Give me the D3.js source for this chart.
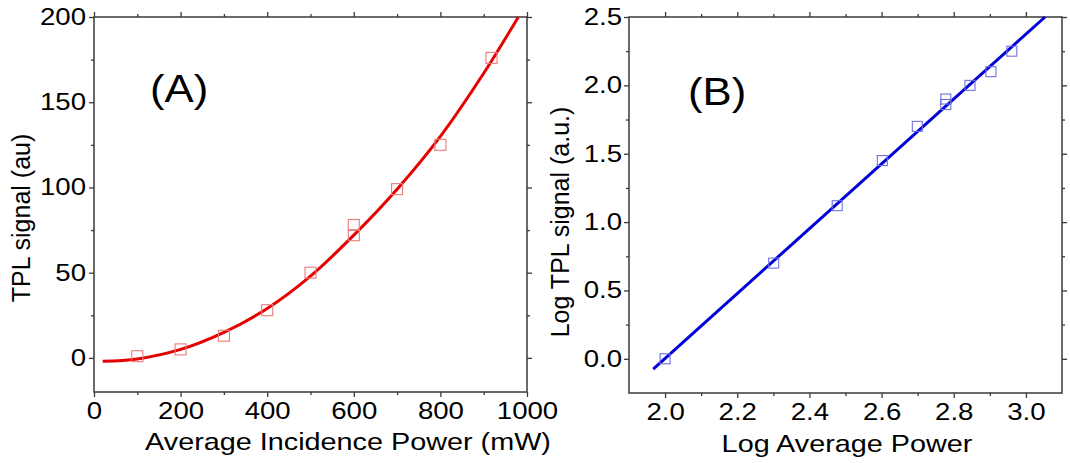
<!DOCTYPE html>
<meta charset="utf-8">
<style>
body { margin: 0; background: #fff; }
svg text { font-family: "Liberation Sans", Arial, sans-serif; fill: #000; }
.frame { fill: none; stroke: #3a3a3a; stroke-width: 1.5; }
.axis line { stroke: #3a3a3a; stroke-width: 1.3; }
.axis path { display: none; }
</style>
<svg width="1070" height="463" id="chart"></svg>
<script src="https://d3js.org/d3.v7.min.js"></script>
<script>
// panel A: raw signal vs power
var powerA  = [100, 200, 300, 400, 500, 600, 600, 700, 800, 918];
var signalA = [1, 5, 13, 28, 50, 72, 78, 99, 125, 176];
// fitted curve
var fitPowerA  = [20, 100, 200, 300, 400, 500, 600, 700, 800, 900, 980];
var fitSignalA = [-2, -0.6, 5, 15, 29, 48, 72, 99, 130, 167, 200];

// panel B: log-log
var logPowerB  = [2.0, 2.301, 2.477, 2.602, 2.699, 2.778, 2.778, 2.845, 2.903, 2.961];
var logSignalB = [0.0, 0.70, 1.12, 1.45, 1.70, 1.86, 1.90, 2.00, 2.10, 2.25];
var fitLogPowerB  = [1.967, 3.053];
var fitLogSignalB = [-0.075, 2.5];

var xTicksA = [0, 200, 400, 600, 800, 1000], xMinorA = [100, 300, 500, 700, 900];
var yTicksA = [0, 50, 100, 150, 200], yMinorA = [25, 75, 125, 175];
var xTicksB = [2.0, 2.2, 2.4, 2.6, 2.8, 3.0], xMinorB = [2.1, 2.3, 2.5, 2.7, 2.9];
var yTicksB = [0, 0.5, 1.0, 1.5, 2.0, 2.5], yMinorB = [0.25, 0.75, 1.25, 1.75, 2.25];

var svg = d3.select("#chart");
var stretch = 1.2;   // glyphs in the picture are a bit wide

function panel(o) {
  var x = d3.scaleLinear().domain(o.xDomain).range(o.xRange);
  var y = d3.scaleLinear().domain(o.yDomain).range(o.yRange);
  var g = svg.append("g");
  var x0 = o.xRange[0], x1 = o.xRange[1], y0 = o.yRange[0], y1 = o.yRange[1];

  // bottom / top
  g.append("g").attr("class", "axis").attr("transform", `translate(0,${y0})`)
    .call(d3.axisBottom(x).tickValues(o.xTicks).tickSize(5).tickPadding(6).tickFormat(o.xFmt))
    .selectAll("text").attr("font-size", 23).attr("transform", `scale(${stretch},1)`);
  g.append("g").attr("class", "axis").attr("transform", `translate(0,${y0})`)
    .call(d3.axisBottom(x).tickValues(o.xMinor).tickSize(3).tickFormat(""));
  g.append("g").attr("class", "axis").attr("transform", `translate(0,${y1})`)
    .call(d3.axisTop(x).tickValues(o.xTicks).tickSize(5).tickFormat(""));
  g.append("g").attr("class", "axis").attr("transform", `translate(0,${y1})`)
    .call(d3.axisTop(x).tickValues(o.xMinor).tickSize(3).tickFormat(""));

  // left / right
  g.append("g").attr("class", "axis").attr("transform", `translate(${x0},0)`)
    .call(d3.axisLeft(y).tickValues(o.yTicks).tickSize(5).tickFormat(o.yFmt))
    .selectAll("text").attr("font-size", 23).attr("x", -o.yPad / stretch)
      .attr("transform", `scale(${stretch},1)`);
  g.append("g").attr("class", "axis").attr("transform", `translate(${x0},0)`)
    .call(d3.axisLeft(y).tickValues(o.yMinor).tickSize(3).tickFormat(""));
  g.append("g").attr("class", "axis").attr("transform", `translate(${x1},0)`)
    .call(d3.axisRight(y).tickValues(o.yTicks).tickSize(5).tickFormat(""));
  g.append("g").attr("class", "axis").attr("transform", `translate(${x1},0)`)
    .call(d3.axisRight(y).tickValues(o.yMinor).tickSize(3).tickFormat(""));

  g.append("rect").attr("class", "frame")
    .attr("x", x0).attr("y", y1).attr("width", x1 - x0).attr("height", y0 - y1);

  // fit line
  var fit = d3.range(o.fitX.length).map(i => [o.fitX[i], o.fitY[i]]);
  g.append("path").datum(fit)
    .attr("fill", "none").attr("stroke", o.lineColor).attr("stroke-width", 3)
    .attr("d", d3.line().x(d => x(d[0])).y(d => y(d[1])).curve(d3.curveCatmullRom));

  // open squares
  var s = o.sq;
  g.selectAll(null).data(o.px).enter().append("rect")
    .attr("x", (d, i) => x(d) - s / 2)
    .attr("y", (d, i) => y(o.py[i]) - s / 2)
    .attr("width", s).attr("height", s)
    .attr("fill", "none").attr("stroke", o.markColor).attr("stroke-width", 1.1);

  // titles
  g.append("text").attr("font-size", 24).attr("text-anchor", "middle")
    .attr("transform", `translate(${o.xTitlePos[0]},${o.xTitlePos[1]}) scale(${stretch},1)`)
    .text(o.xTitle);
  g.append("text").attr("font-size", 25).attr("text-anchor", "middle")
    .attr("transform", `translate(${o.yTitlePos[0]},${o.yTitlePos[1]}) rotate(-90)`)
    .text(o.yTitle);
  g.append("text").attr("font-size", 38)
    .attr("transform", `translate(${o.tagPos[0]},${o.tagPos[1]}) scale(1.15,1)`)
    .text(o.tag);
}

panel({
  xDomain: [0, 1000], xRange: [94, 527],
  yDomain: [-20, 200], yRange: [392, 17],
  xTicks: xTicksA, xMinor: xMinorA, yTicks: yTicksA, yMinor: yMinorA,
  xFmt: d3.format("d"), yFmt: d3.format("d"), yPad: 8,
  fitX: fitPowerA, fitY: fitSignalA, px: powerA, py: signalA,
  lineColor: "#e60000", markColor: "#ec7a7a", sq: 11,
  xTitle: "Average Incidence Power (mW)", xTitlePos: [348, 450],
  yTitle: "TPL signal (au)", yTitlePos: [30, 218],
  tag: "(A)", tagPos: [150, 102]
});

panel({
  xDomain: [1.9, 3.1], xRange: [629, 1062],
  yDomain: [-0.25, 2.5], yRange: [393, 17],
  xTicks: xTicksB, xMinor: xMinorB, yTicks: yTicksB, yMinor: yMinorB,
  xFmt: d3.format(".1f"), yFmt: d3.format(".1f"), yPad: 7,
  fitX: fitLogPowerB, fitY: fitLogSignalB, px: logPowerB, py: logSignalB,
  lineColor: "#0000d8", markColor: "#6f6fe0", sq: 10,
  xTitle: "Log Average Power", xTitlePos: [847, 452],
  yTitle: "Log TPL signal (a.u.)", yTitlePos: [569, 222],
  tag: "(B)", tagPos: [688, 105]
});
</script>
